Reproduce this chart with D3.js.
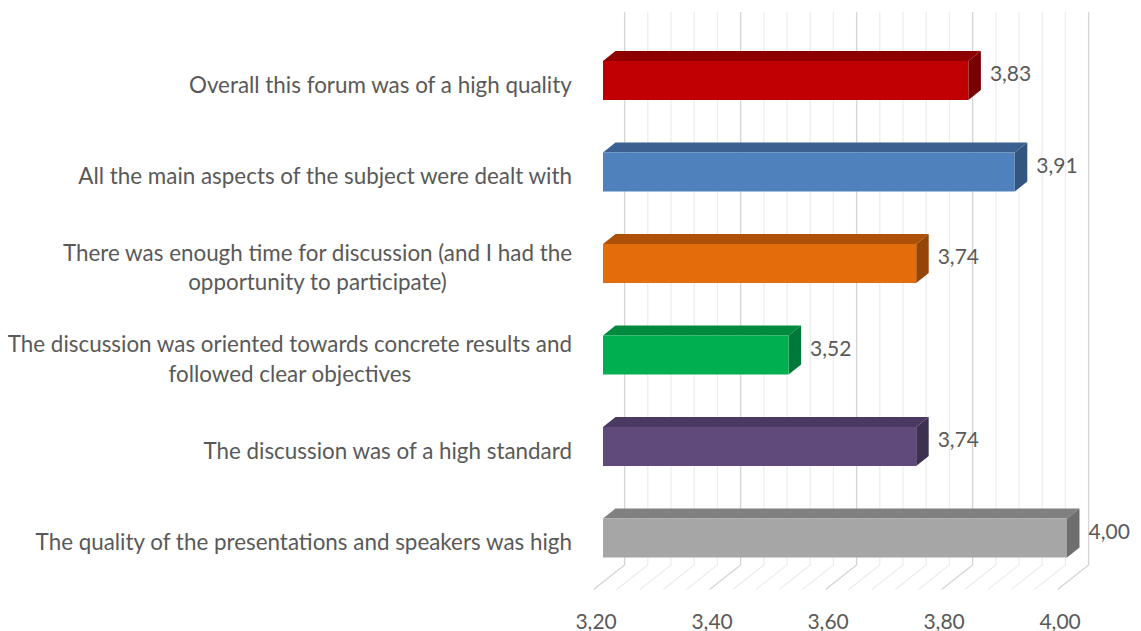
<!DOCTYPE html>
<html><head><meta charset="utf-8">
<script src="https://cdn.jsdelivr.net/npm/d3@7"></script>
<style>
html,body{margin:0;padding:0;background:#fff;}
svg text{font-family:Lato,"Open Sans",sans-serif;fill:#595959;}
</style></head>
<body><svg id="c" width="1141" height="631"></svg>
<script>
const categories = [
  ["Overall this forum was of a high quality"],
  ["All the main aspects of the subject were dealt with"],
  ["There was enough time for discussion (and I had the", "opportunity to participate)"],
  ["The discussion was oriented towards concrete results and", "followed clear objectives"],
  ["The discussion was of a high standard"],
  ["The quality of the presentations and speakers was high"]
];
const values = [3.83, 3.91, 3.74, 3.52, 3.74, 4.00];
const frontColors = ["#C00000", "#4F81BD", "#E46C0A", "#00B050", "#604A7B", "#A6A6A6"];
const topColors   = ["#8E0000", "#3B6191", "#AE5108", "#008A3E", "#4A3961", "#808080"];
const sideColors  = ["#770000", "#34557E", "#954607", "#00783A", "#3E3052", "#6E6E6E"];
const tickValues = [3.20, 3.40, 3.60, 3.80, 4.00];
const minorStep = 0.04;

const svg = d3.select("#c");
const fmt = d3.formatLocale({decimal: ",", thousands: ".", grouping: [3], currency: ["", ""]}).format(".2f");

const x = d3.scaleLinear().domain([3.2, 4.0]).range([624.6, 1088.6]); // back wall
const idx = categories.map((d, i) => i);
const y = d3.scalePoint().domain(idx).range([80.5, 538]);

const wallTop = 12, wallBottom = 565;
const floorDx = -31, floorDy = 24.5;     // back wall -> front floor edge
const faceDx = -21.6;                     // back wall -> bar front face
const depthDx = 12.5, depthDy = -10;      // bar front -> bar back
const faceH = 39;
const labelSize = 22.4, numSize = 21;

// grid lines
const gridVals = d3.range(0, 21).map(i => +(3.2 + i * minorStep).toFixed(2));
const isMajor = v => Math.abs(Math.round(v / 0.2) * 0.2 - v) < 1e-6;
const g = svg.append("g");
gridVals.forEach(v => {
  const col = isMajor(v) ? "#D4D4D4" : "#EDEDED";
  g.append("path")
    .attr("d", `M${x(v)},${wallTop}L${x(v)},${wallBottom}L${x(v) + floorDx},${wallBottom + floorDy}`)
    .attr("fill", "none").attr("stroke", col).attr("stroke-width", 1.3);
});

// bars
const bars = svg.append("g");
values.forEach((v, i) => {
  const x0 = x(3.2) + faceDx, x1 = x(v) + faceDx;
  const yt = y(i) - faceH / 2, yb = y(i) + faceH / 2;
  bars.append("path")
    .attr("d", `M${x0},${yt}L${x0 + depthDx},${yt + depthDy}L${x1 + depthDx},${yt + depthDy}L${x1},${yt}Z`)
    .attr("fill", topColors[i]);
  bars.append("path")
    .attr("d", `M${x1},${yt}L${x1 + depthDx},${yt + depthDy}L${x1 + depthDx},${yb + depthDy}L${x1},${yb}Z`)
    .attr("fill", sideColors[i]);
  bars.append("rect")
    .attr("x", x0).attr("y", yt).attr("width", x1 - x0).attr("height", faceH)
    .attr("fill", frontColors[i]);
  svg.append("text")
    .attr("x", x1 + depthDx + 9).attr("y", y(i) - 8)
    .attr("dominant-baseline", "central")
    .attr("font-size", numSize)
    .text(fmt(v));
});

// category labels
categories.forEach((lines, i) => {
  const t = svg.append("text").attr("font-size", labelSize).attr("text-anchor", "middle");
  const n = lines.length, lh = 29.5;
  lines.forEach((ln, k) => {
    t.append("tspan").attr("x", 0).attr("y", y(i) + 3.5 + (k - (n - 1) / 2) * lh)
      .attr("dominant-baseline", "central").text(ln);
  });
  const w = t.node().getBBox().width;
  t.selectAll("tspan").attr("x", 572 - w / 2);
});

// x axis
const axis = d3.axisBottom(x).tickValues(tickValues).tickFormat(fmt).tickSize(0).tickPadding(0);
const ax = svg.append("g").attr("transform", `translate(-29,620)`).call(axis);
ax.select(".domain").remove();
ax.selectAll("text").attr("font-size", numSize).attr("dy", null)
  .attr("dominant-baseline", "central").style("font-family", "Lato").attr("fill", "#595959");
</script></body></html>
